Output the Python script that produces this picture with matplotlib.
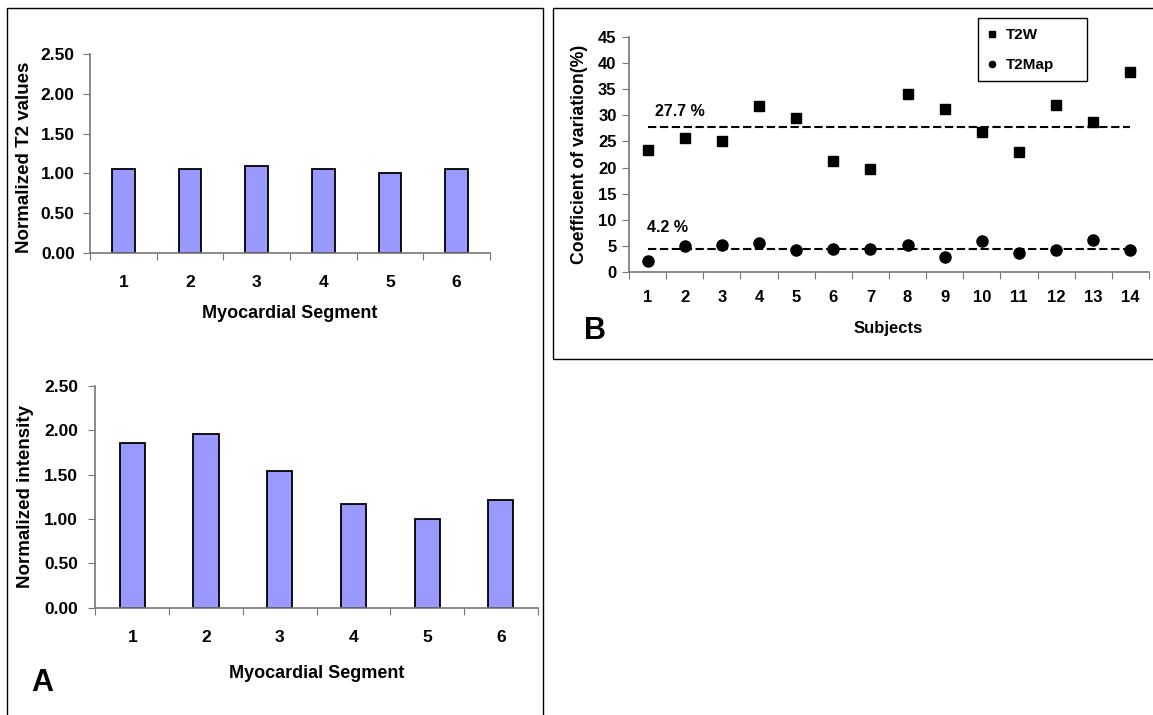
import matplotlib
matplotlib.use('Agg')
import matplotlib.pyplot as plt
from matplotlib.patches import Rectangle
from matplotlib.lines import Line2D
import numpy as np

plt.rcParams['font.family'] = ['Liberation Sans', 'DejaVu Sans']
plt.rcParams['font.weight'] = 'bold'

# data
segments = [1, 2, 3, 4, 5, 6]
t2_values = [1.06, 1.06, 1.09, 1.06, 1.01, 1.06]
intensity = [1.86, 1.955, 1.545, 1.17, 1.0, 1.21]

subjects = list(range(1, 15))
cv_t2w = [23.4, 25.7, 25.0, 31.8, 29.6, 21.3, 19.7, 34.1, 31.2, 26.8, 22.9, 32.0, 28.8, 38.3]
cv_t2map = [2.0, 4.9, 5.2, 5.5, 4.2, 4.4, 4.4, 5.2, 2.8, 5.8, 3.6, 4.2, 6.0, 4.2]
mean_t2w = 27.7
mean_t2map = 4.4
mean_labels = ['27.7 %', '4.2 %']

W, H = 1153, 715
fig = plt.figure(figsize=(W / 100, H / 100), dpi=100)
axis_grey = '#777777'


def px_axes(x0, y0, x1, y1):
    return fig.add_axes([x0 / W, 1 - y1 / H, (x1 - x0) / W, (y1 - y0) / H])


def style_category_axis(ax, n, ylab_pad, xlab_pad, size):
    ax.set_xlim(0.5, n + 0.5)
    ax.set_xticks(np.arange(0.5, n + 1, 1))
    ax.set_xticklabels([])
    ax.set_xticks(np.arange(1, n + 1), minor=True)
    ax.set_xticklabels([str(i) for i in range(1, n + 1)], minor=True)
    ax.tick_params(axis='x', which='major', direction='out', length=5, color=axis_grey)
    ax.tick_params(axis='x', which='minor', length=0, pad=xlab_pad, labelsize=size)
    ax.tick_params(axis='y', direction='out', length=5, color=axis_grey, pad=ylab_pad, labelsize=size)
    for s in ['top', 'right']:
        ax.spines[s].set_visible(False)
    for s in ['left', 'bottom']:
        ax.spines[s].set_color(axis_grey)
        ax.spines[s].set_linewidth(1.2)
    for lab in ax.get_xticklabels(minor=True) + ax.get_yticklabels():
        lab.set_fontweight('bold')


# panel frames
fig.patches.append(Rectangle((7 / W, -0.01), 536 / W, 1 - 8 / H + 0.01, transform=fig.transFigure,
                             fill=False, edgecolor='black', linewidth=1.0))
fig.patches.append(Rectangle((553 / W, 1 - 359 / H), 605 / W, 351 / H, transform=fig.transFigure,
                             fill=False, edgecolor='black', linewidth=1.0))

# top left
ax1 = px_axes(90, 54, 490, 253)
ax1.bar(segments, t2_values, width=0.34, color='#9999FF', edgecolor='black', linewidth=1.3)
ax1.set_ylim(0, 2.5)
ax1.set_yticks(np.arange(0, 2.51, 0.5))
ax1.set_yticklabels(['%.2f' % v for v in np.arange(0, 2.51, 0.5)])
style_category_axis(ax1, 6, 6, 16, 12.5)
fig.text(290 / W, 1 - 313 / H, 'Myocardial Segment', ha='center', va='center', fontsize=13, fontweight='bold')
fig.text(25 / W, 1 - 157 / H, 'Normalized T2 values', ha='center', va='center', rotation=90,
         fontsize=13.5, fontweight='bold')

# bottom left
ax2 = px_axes(95.4, 386, 537.7, 607.7)
ax2.bar(segments, intensity, width=0.34, color='#9999FF', edgecolor='black', linewidth=1.3)
ax2.set_ylim(0, 2.5)
ax2.set_yticks(np.arange(0, 2.51, 0.5))
ax2.set_yticklabels(['%.2f' % v for v in np.arange(0, 2.51, 0.5)])
style_category_axis(ax2, 6, 7.5, 16, 12.5)
fig.text(317 / W, 1 - 673 / H, 'Myocardial Segment', ha='center', va='center', fontsize=13, fontweight='bold')
fig.text(26 / W, 1 - 497 / H, 'Normalized intensity', ha='center', va='center', rotation=90,
         fontsize=13.5, fontweight='bold')
fig.text(42 / W, 1 - 683 / H, 'A', ha='center', va='center', fontsize=22, fontweight='bold')

# right panel
ax3 = px_axes(629, 37.3, 1149, 271.7)
ax3.plot(subjects, cv_t2w, linestyle='none', marker='s', markersize=7.2, color='black')
ax3.plot(subjects, cv_t2map, linestyle='none', marker='o', markersize=8, color='black')
ax3.plot([subjects[0], subjects[-1]], [mean_t2w, mean_t2w], color='black', linewidth=1.5,
         linestyle=(0, (4, 1.7)))
ax3.plot([subjects[0], subjects[-1]], [mean_t2map, mean_t2map], color='black', linewidth=1.5,
         linestyle=(0, (4, 1.7)))
ax3.set_ylim(0, 45)
ax3.set_yticks(np.arange(0, 46, 5))
style_category_axis(ax3, 14, 4, 13, 12)
ax3.text(654.6 / W, 1 - 111.7 / H, mean_labels[0], transform=fig.transFigure, ha='left', va='center',
         fontsize=11.5, fontweight='bold')
ax3.text(647.3 / W, 1 - 227.7 / H, mean_labels[1], transform=fig.transFigure, ha='left', va='center',
         fontsize=11.5, fontweight='bold')
fig.text(888 / W, 1 - 328 / H, 'Subjects', ha='center', va='center', fontsize=12, fontweight='bold')
fig.text(580 / W, 1 - 154 / H, 'Coefficient of variation(%)', ha='center', va='center', rotation=90,
         fontsize=12.7, fontweight='bold')
fig.text(595 / W, 1 - 331 / H, 'B', ha='center', va='center', fontsize=22, fontweight='bold')

# legend box
fig.patches.append(Rectangle((977.7 / W, 1 - 80.7 / H), 108.8 / W, 62.7 / H, transform=fig.transFigure,
                             fill=True, facecolor='white', edgecolor='black', linewidth=1.0, zorder=5))
handles = [Line2D([], [], linestyle='none', marker='s', markersize=4.5, color='black'),
           Line2D([], [], linestyle='none', marker='o', markersize=4.5, color='black')]
leg = fig.legend(handles, ['T2W', 'T2Map'], loc='upper left', bbox_to_anchor=(986 / W, 1 - 28 / H),
                 frameon=False, fontsize=11, handlelength=0.8, handletextpad=0.5, labelspacing=1.05,
                 borderpad=0, borderaxespad=0)
leg.set_zorder(6)
for t in leg.get_texts():
    t.set_fontweight('bold')

fig.savefig('out.png', dpi=100)
